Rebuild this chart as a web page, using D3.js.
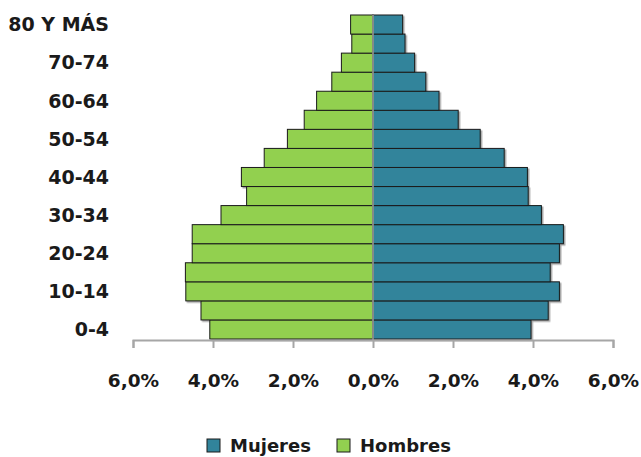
<!DOCTYPE html>
<html><head><meta charset="utf-8">
<script src="https://cdn.jsdelivr.net/npm/d3@7"></script>
<style>body{margin:0;background:#fff}svg{display:block}</style>
</head><body>
<svg id="c" width="641" height="457"></svg>
<script>
const categories = ["0-4","5-9","10-14","15-19","20-24","25-29","30-34","35-39","40-44","45-49","50-54","55-59","60-64","65-69","70-74","75-79","80 Y MÁS"];
const shownLabels = ["0-4","10-14","20-24","30-34","40-44","50-54","60-64","70-74","80 Y MÁS"];
const mujeres = [3.95,4.38,4.66,4.43,4.66,4.76,4.21,3.88,3.86,3.28,2.68,2.13,1.65,1.32,1.04,0.80,0.74];
const hombres = [4.08,4.30,4.68,4.69,4.52,4.52,3.80,3.16,3.29,2.72,2.14,1.72,1.41,1.03,0.79,0.53,0.56];
const xTicks = [-6,-4,-2,0,2,4,6];
const seriesNames = ["Mujeres","Hombres"];
const colors = {Mujeres:"#31849B", Hombres:"#92D050"};

const svg = d3.select("#c");
const x = d3.scaleLinear().domain([-6,6]).range([133,613]);
const y = d3.scaleBand().domain(categories.slice().reverse()).range([15,339]).padding(0);
const font = "'DejaVu Sans', sans-serif";

const defs = svg.append("defs");
const f = defs.append("filter").attr("id","sh").attr("x","-10%").attr("y","-10%").attr("width","130%").attr("height","140%");
f.append("feDropShadow").attr("dx",1.5).attr("dy",1.5).attr("stdDeviation",0.6).attr("flood-color","#000").attr("flood-opacity",0.35);

const g = svg.append("g").attr("filter","url(#sh)");
g.selectAll("rect.h").data(categories).join("rect").attr("class","h")
  .attr("x", (d,i)=>x(-hombres[i])).attr("y", d=>y(d))
  .attr("width",(d,i)=>x(0)-x(-hombres[i])).attr("height", y.bandwidth())
  .attr("fill", colors.Hombres).attr("stroke","#1a1a1a").attr("stroke-width",1);
g.selectAll("rect.m").data(categories).join("rect").attr("class","m")
  .attr("x", x(0)).attr("y", d=>y(d))
  .attr("width",(d,i)=>x(mujeres[i])-x(0)).attr("height", y.bandwidth())
  .attr("fill", colors.Mujeres).attr("stroke","#1a1a1a").attr("stroke-width",1);

// center vertical axis
svg.append("line").attr("x1",x(0)).attr("x2",x(0)).attr("y1",15).attr("y2",341)
  .attr("stroke","#a0a0a0").attr("stroke-width",1.5);

// x axis
const fmt = v => Math.abs(v).toFixed(1).replace(".",",") + "%";
const ax = svg.append("g").attr("transform","translate(0,340)")
  .call(d3.axisBottom(x).tickValues(xTicks).tickSize(8).tickSizeOuter(8).tickFormat(fmt).tickPadding(26));
ax.select(".domain").attr("stroke","#a6a6a6").attr("stroke-width",2);
ax.selectAll(".tick line").attr("stroke","#a6a6a6").attr("stroke-width",2);
ax.selectAll(".tick text").attr("font-family",font).attr("font-weight","bold")
  .attr("font-size","18.5px").attr("fill","#1a1a1a");

// y labels
svg.append("g").selectAll("text").data(shownLabels).join("text")
  .attr("x",109).attr("y", d=>y(d)+y.bandwidth()/2).attr("dy","0.36em")
  .attr("text-anchor","end").attr("font-family",font).attr("font-weight","bold")
  .attr("font-size","19px").attr("fill","#1a1a1a").text(d=>d);

// legend
const legX = [207, 337];
const lg = svg.append("g");
seriesNames.forEach((s,i)=>{
  lg.append("rect").attr("x",legX[i]).attr("y",439).attr("width",13).attr("height",13)
    .attr("fill",colors[s]).attr("stroke","#1a1a1a").attr("stroke-width",1);
  lg.append("text").attr("x",legX[i]+23).attr("y",452)
    .attr("font-family",font).attr("font-weight","bold").attr("font-size","18px")
    .attr("fill","#1a1a1a").text(s);
});
</script>
</body></html>
